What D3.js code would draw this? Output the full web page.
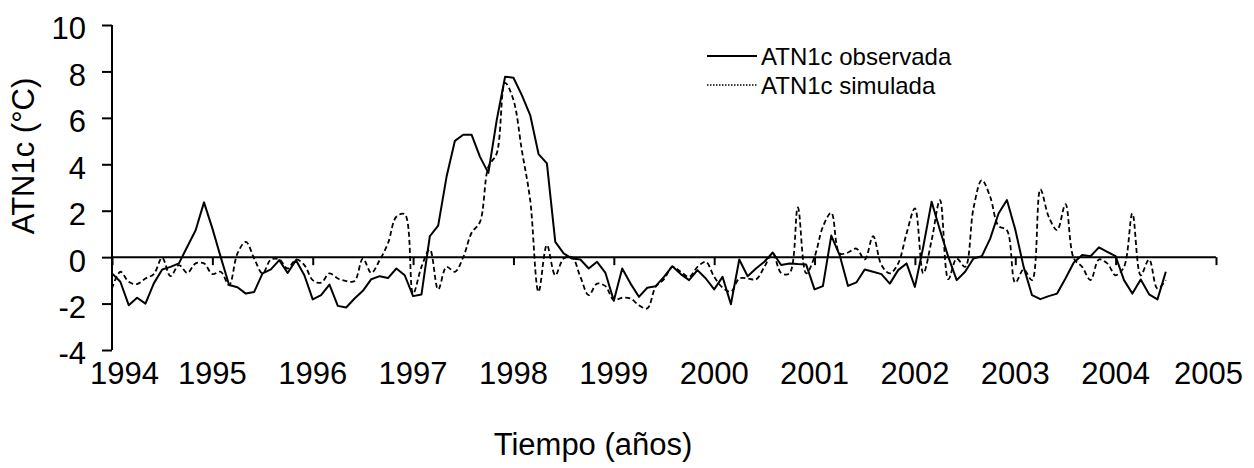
<!DOCTYPE html>
<html>
<head>
<meta charset="utf-8">
<script src="https://cdn.jsdelivr.net/npm/d3@7"></script>
<style>
  body { margin: 0; background: #fff; }
  svg { display: block; font-family: "Liberation Sans", Arial, sans-serif; }
</style>
</head>
<body>
<div id="chart"></div>
<script>
// ── Data: monthly values, Jan 1994 onward ──
const startYear = 1994;
const years = [1994, 1995, 1996, 1997, 1998, 1999, 2000, 2001, 2002, 2003, 2004, 2005];
const yTicks = [-4, -2, 0, 2, 4, 6, 8, 10];

const observada = [
  -0.7, -1.06, -2.07, -1.75, -2.0, -1.13, -0.53, -0.42, -0.27, 0.45, 1.16, 2.36,
  1.24, 0.0, -1.2, -1.3, -1.57, -1.5, -0.7, -0.53, -0.13, -0.68, -0.13, -0.78,
  -1.82, -1.64, -1.18, -2.1, -2.17, -1.78, -1.45, -0.95, -0.82, -0.9, -0.49, -0.78,
  -1.68, -1.61, 0.9, 1.36, 3.46, 5.01, 5.27, 5.27, 4.32, 3.63, 5.9, 7.77,
  7.73, 6.98, 6.12, 4.44, 4.04, 0.66, 0.16, -0.06, -0.1, -0.49, -0.2, -0.68,
  -1.88, -0.49, -1.14, -1.71, -1.32, -1.25, -0.85, -0.39, -0.73, -0.99, -0.56, -0.92,
  -1.39, -0.85, -2.03, -0.1, -0.82, -0.49, -0.2, 0.2, -0.34, -0.27, -0.3, -0.32,
  -1.39, -1.25, 0.93, 0.09, -1.24, -1.09, -0.53, -0.63, -0.73, -1.14, -0.56, -0.27,
  -1.28, 0.45, 2.39, 1.16, 0.0, -0.99, -0.63, -0.06, 0.04, 0.8, 1.88, 2.46,
  1.19, -0.42, -1.64, -1.81, -1.68, -1.57, -0.92, -0.23, 0.09, 0.04, 0.42, 0.23,
  0.04, -0.99, -1.57, -0.96, -1.6, -1.82, -0.63
];

const simulada = [
  -1.35, -0.63, -1.06, -1.16, -0.92, -0.73, -0.03, -0.82, -0.34, -0.68, -0.27, -0.27,
  -0.73, -0.63, -1.2, 0.16, 0.66, -0.06, -0.7, -0.1, -0.1, -0.49, -0.1, -0.34,
  -0.99, -1.1, -0.7, -0.92, -1.03, -1.03, -0.06, -0.68, -0.13, 0.6, 1.74, 1.85,
  -1.57, -0.42, 0.33, -1.39, -0.42, -0.63, 0.0, 1.05, 1.52, 3.89, 4.47, 7.51,
  6.77, 4.61, 2.46, -1.49, 0.52, -0.78, -0.06, 0.0, -0.85, -1.64, -1.14, -1.25,
  -1.85, -1.75, -1.78, -2.07, -2.21, -1.28, -0.95, -0.42, -0.63, -0.85, -0.42, -0.2,
  -0.85, -1.31, -1.49, -0.92, -0.92, -0.96, -0.42, 0.16, -0.68, -0.7, 2.14, -0.7,
  0.01, 1.31, 1.91, 0.16, 0.2, 0.37, -0.1, 0.9, -0.34, -0.7, -0.27, 1.02,
  2.1, -0.7, 0.73, 2.46, -0.95, -0.06, -0.42, 2.1, 3.32, 2.6, 1.34, 1.16,
  -1.1, -0.53, -0.99, 2.92, 1.74, 1.16, 2.28, -0.06, -0.42, -0.99, -0.1, -0.27,
  -0.78, -0.42, 1.88, -0.78, -0.1, -1.35, -1.0
];

// ── Layout ──
const W = 1254, H = 468;
const X0 = 112, X1 = 1216, YT = 25, YB = 350;
const FS = 31;

const svg = d3.select("#chart").append("svg")
  .attr("width", W).attr("height", H);

const x = d3.scaleLinear().domain([1994, 2005]).range([X0, X1]);
const y = d3.scaleLinear().domain([-4, 10]).range([YB, YT]);

const t = (i) => startYear + i / 12;

// ── Y axis ──
const yAxis = svg.append("g")
  .attr("transform", `translate(${X0},0)`)
  .call(
    d3.axisLeft(y)
      .tickValues(yTicks)
      .tickSize(10)
      .tickPadding(16)
      .tickFormat((d) => String(d)), // plain hyphen like the original
  );
yAxis.select(".domain").attr("stroke", "#000").attr("stroke-width", 2)
  .attr("d", `M0,${YB}V${YT}`);
yAxis.selectAll(".tick line").attr("stroke", "#000").attr("stroke-width", 2);
yAxis.selectAll(".tick text")
  .attr("fill", "#000")
  .style("font-size", FS + "px")
  .attr("dy", "0.45em");

// ── X axis along zero ──
const xAxis = svg.append("g")
  .attr("transform", `translate(0,${y(0)})`)
  .call(d3.axisBottom(x).tickValues(years).tickSize(8).tickFormat(""));
xAxis.select(".domain").attr("stroke", "#000").attr("stroke-width", 2)
  .attr("d", `M${X0},0H${X1}`);
xAxis.selectAll(".tick line").attr("stroke", "#000").attr("stroke-width", 2);

// year labels sit below the plot, kept inside the frame
const labG = svg.append("g");
labG.selectAll("text")
  .data(years)
  .enter()
  .append("text")
  .attr("y", 384)
  .attr("text-anchor", "middle")
  .style("font-size", FS + "px")
  .attr("fill", "#000")
  .text((d) => d)
  .each(function (d) {
    const half = this.getComputedTextLength() / 2;
    const cx = Math.max(90 + half, Math.min(1243 - half, x(d)));
    d3.select(this).attr("x", cx);
  });

// ── Axis titles ──
svg.append("text")
  .attr("transform", `translate(34,156) rotate(-90)`)
  .attr("text-anchor", "middle")
  .style("font-size", FS + "px")
  .text("ATN1c (°C)");

svg.append("text")
  .attr("x", 593).attr("y", 455)
  .attr("text-anchor", "middle")
  .style("font-size", FS + "px")
  .text("Tiempo (años)");

// ── Lines ──
const lineStraight = d3.line()
  .x((d, i) => x(t(i)))
  .y((d) => y(d));

const lineSmooth = d3.line()
  .x((d, i) => x(t(i)))
  .y((d) => y(d))
  .curve(d3.curveCatmullRom.alpha(0.5));

svg.append("path")
  .datum(simulada)
  .attr("fill", "none")
  .attr("stroke", "#000")
  .attr("stroke-width", 1.8)
  .attr("stroke-dasharray", "5,3")
  .attr("d", lineSmooth);

svg.append("path")
  .datum(observada)
  .attr("fill", "none")
  .attr("stroke", "#000")
  .attr("stroke-width", 2)
  .attr("stroke-linejoin", "round")
  .attr("d", lineStraight);

// ── Legend ──
const legend = [
  { label: "ATN1c observada", dash: null, y: 56 },
  { label: "ATN1c simulada", dash: "1.5,1.5", y: 85 },
];
const lg = svg.append("g");
legend.forEach((d) => {
  lg.append("line")
    .attr("x1", 707).attr("x2", 757)
    .attr("y1", d.y).attr("y2", d.y)
    .attr("stroke", "#000")
    .attr("stroke-width", d.dash ? 1.5 : 2)
    .attr("stroke-dasharray", d.dash);
  lg.append("text")
    .attr("x", 761).attr("y", d.y + 8.5)
    .style("font-size", "24px")
    .text(d.label);
});
</script>
</body>
</html>
